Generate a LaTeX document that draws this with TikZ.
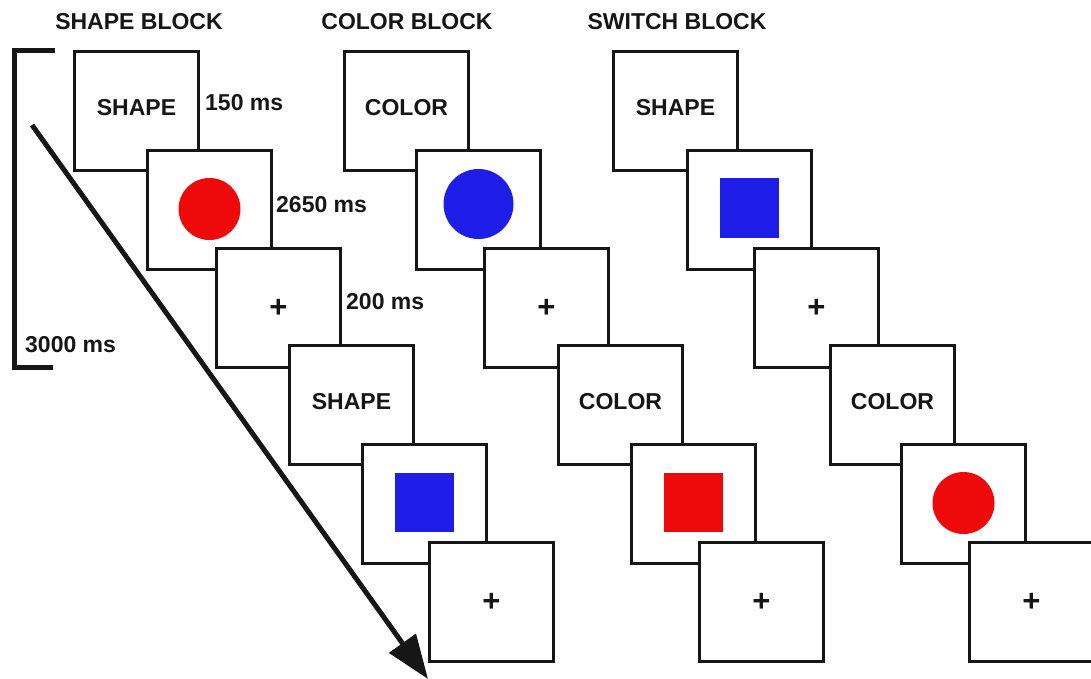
\documentclass[tikz,border=0pt]{standalone}
\usepackage{fontspec}
\setmainfont{Liberation Sans}
\usetikzlibrary{arrows.meta}
\definecolor{stimred}{RGB}{238,10,10}
\definecolor{stimblue}{RGB}{30,30,232}
\definecolor{ink}{RGB}{22,22,22}
\begin{document}
\begin{tikzpicture}[x=1pt,y=-1pt,
  frame/.style={draw=ink, fill=white, line width=2.8pt, minimum width=124pt, minimum height=119pt, inner sep=0pt},
  word/.style={font=\fontsize{23}{27}\selectfont\bfseries, text=ink, inner sep=0pt},
  plus/.style={font=\fontsize{31}{34}\selectfont\bfseries, text=ink, inner sep=0pt},
  reddot/.style={circle, fill=stimred, minimum width=62pt, inner sep=0pt},
  bluedot/.style={circle, fill=stimblue, minimum width=70pt, inner sep=0pt},
  redsq/.style={rectangle, fill=stimred, minimum width=59pt, minimum height=59pt, inner sep=0pt},
  bluesq/.style={rectangle, fill=stimblue, minimum width=59pt, minimum height=59pt, inner sep=0pt},
  timing/.style={font=\fontsize{23}{27}\selectfont\bfseries, text=ink, inner sep=0pt, anchor=west},
  heavy/.style={draw=ink, line width=5pt}
]
\useasboundingbox (0,0) rectangle (1091,679);
\clip (0,0) rectangle (1091,679);

% titles
\node[word] (tshape) at (139,22) {SHAPE BLOCK};
\node[word] (tcolor) at (407,22) {COLOR BLOCK};
\node[word] (tswitch) at (677,22) {SWITCH BLOCK};

% ---- shape block ----
\node[frame] (a1) at (136.5,111) {};
\node[word] (a1t) at ([yshift=3pt]a1.center) {SHAPE};
\node[frame] (a2) at (209.5,210) {};
\node[reddot] (a2s) at ([yshift=1pt]a2.center) {};
\node[frame] (a3) at (278.5,308) {};
\node[plus] (a3t) at (a3.center) {+};
\node[frame] (a4) at (351.5,405) {};
\node[word] (a4t) at ([yshift=3pt]a4.center) {SHAPE};
\node[frame] (a5) at (424.5,504) {};
\node[bluesq] (a5s) at ([yshift=2pt]a5.center) {};
\node[frame] (a6) at (491.5,602) {};
\node[plus] (a6t) at (a6.center) {+};

% ---- color block ----
\node[frame] (b1) at (406.5,111) {};
\node[word] (b1t) at ([yshift=3pt]b1.center) {COLOR};
\node[frame] (b2) at (478.5,210) {};
\node[bluedot] (b2s) at ([yshift=6pt]b2.center) {};
\node[frame] (b3) at (546.5,308) {};
\node[plus] (b3t) at (b3.center) {+};
\node[frame] (b4) at (620.5,405) {};
\node[word] (b4t) at ([yshift=3pt]b4.center) {COLOR};
\node[frame] (b5) at (693.5,504) {};
\node[redsq] (b5s) at ([yshift=2pt]b5.center) {};
\node[frame] (b6) at (761.5,602) {};
\node[plus] (b6t) at (b6.center) {+};

% ---- switch block ----
\node[frame] (c1) at (675.5,111) {};
\node[word] (c1t) at ([yshift=3pt]c1.center) {SHAPE};
\node[frame] (c2) at (749.5,210) {};
\node[bluesq] (c2s) at ([yshift=2pt]c2.center) {};
\node[frame] (c3) at (816.5,308) {};
\node[plus] (c3t) at (c3.center) {+};
\node[frame] (c4) at (892.5,405) {};
\node[word] (c4t) at ([yshift=3pt]c4.center) {COLOR};
\node[frame] (c5) at (963.5,504) {};
\node[reddot] (c5s) at ([yshift=1pt]c5.center) {};
\node[frame] (c6) at (1031.5,602) {};
\node[plus] (c6t) at (c6.center) {+};

% timing labels
\node[timing] (l150) at (205,103) {150 ms};
\node[timing] (l2650) at (276,205) {2650 ms};
\node[timing] (l200) at (346,302) {200 ms};
\node[timing] (l3000) at (25,345) {3000 ms};

% bracket
\coordinate (brA) at (55,51);
\coordinate (brB) at (14,51);
\coordinate (brC) at (14,367);
\coordinate (brD) at (53,367);
\draw[heavy, line join=miter] (brA) -- (brB) -- (brC) -- (brD);

% time arrow
\coordinate (arrS) at (32,125);
\coordinate (arrE) at (428,679);
\draw[heavy, -{Triangle[length=44pt,width=32pt]}] (arrS) -- (arrE);
\end{tikzpicture}
\end{document}
